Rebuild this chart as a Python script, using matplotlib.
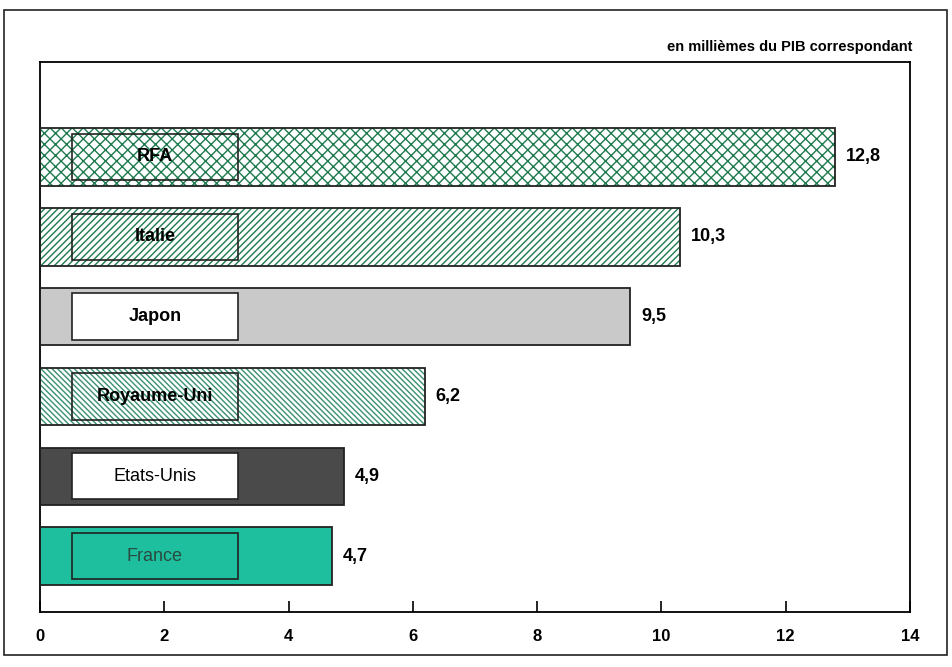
import numpy as np
import matplotlib
matplotlib.use('Agg')
import matplotlib.pyplot as plt
from matplotlib.patches import Rectangle

# data, bottom to top
pays = ['France', 'Etats-Unis', 'Royaume-Uni', 'Japon', 'Italie', 'RFA']
valeurs = [4.7, 4.9, 6.2, 9.5, 10.3, 12.8]
etiquettes = ['4,7', '4,9', '6,2', '9,5', '10,3', '12,8']
xticks = [0, 2, 4, 6, 8, 10, 12, 14]

plt.rcParams['font.family'] = ['Liberation Sans', 'DejaVu Sans']
plt.rcParams['hatch.linewidth'] = 1.0

green = '#1e7a4e'
fills = ['#1dbf9e', '#4a4a4a', 'white', '#c9c9c9', 'white', 'white']
hatches = [None, None, '\\\\\\\\\\\\', None, '/////', 'xxx']
hatch_cols = [None, None, '#3a9070', None, green, green]
box_fill = [False, True, False, True, False, False]
label_w = ['normal', 'normal', 'bold', 'bold', 'bold', 'bold']

fig = plt.figure(figsize=(9.52, 6.67), dpi=100)
ax = fig.add_axes([40/952, 55/667, 870/952, 550/667])

y = np.arange(len(pays))
h = 0.72
for i in range(len(pays)):
    ax.barh(y[i], valeurs[i], height=h, color=fills[i], edgecolor='none', zorder=2)
    if hatches[i]:
        ax.barh(y[i], valeurs[i], height=h, color='none', edgecolor=hatch_cols[i],
                hatch=hatches[i], linewidth=0, zorder=3)
    ax.barh(y[i], valeurs[i], height=h, fill=False, edgecolor='#222222', linewidth=1.3, zorder=4)
    # label box
    ax.add_patch(Rectangle((0.52, y[i] - 0.29), 2.67, 0.58,
                           facecolor='white' if box_fill[i] else 'none',
                           edgecolor='#222222', linewidth=1.2, zorder=5))
    ax.text(1.85, y[i], pays[i], ha='center', va='center', fontsize=13,
            fontweight=label_w[i], color='#2a4a40' if i == 0 else 'black', zorder=6)
    ax.text(valeurs[i] + 0.17, y[i], etiquettes[i], ha='left', va='center',
            fontsize=13, fontweight='bold', zorder=6)

ax.set_xlim(0, 14)
ax.set_ylim(-0.7, 6.19)
ax.set_yticks([])
ax.set_xticks(xticks)
ax.set_xticklabels([str(t) for t in xticks], fontsize=12, fontweight='bold')
ax.tick_params(axis='x', direction='in', length=8, width=1.2, pad=12)
for s in ax.spines.values():
    s.set_linewidth(1.3)

fig.text(912/952, 1 - 47/667, 'en millièmes du PIB correspondant', ha='right', va='center',
         fontsize=10.5, fontweight='bold')

# outer frame
fig.add_artist(Rectangle((4/952, 12/667), 943/952, 645/667, transform=fig.transFigure,
                         fill=False, edgecolor='#222222', linewidth=1.2))

fig.savefig('out.png', dpi=100)
